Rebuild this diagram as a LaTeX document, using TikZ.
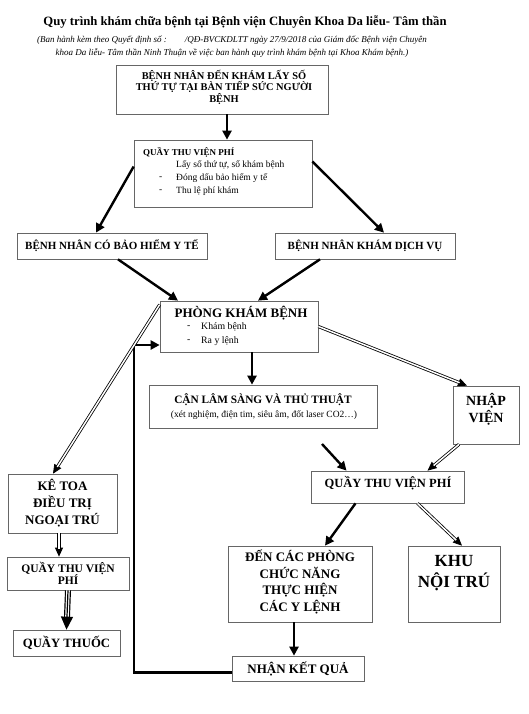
\documentclass[tikz,border=0pt]{standalone}
\usepackage{fontspec}
\setmainfont{Liberation Serif}
\usetikzlibrary{arrows.meta}

\begin{document}
\begin{tikzpicture}[x=1pt,y=-1pt,
    box/.style={draw=black!60, line width=0.7pt, inner sep=0pt, align=center, font=\bfseries},
    txt/.style={inner sep=0pt, align=center},
    arr/.style={line width=2.4pt, -{Triangle[length=9pt,width=9pt]}},
    dbltip/.style={line width=0.8pt, -{Triangle[length=9pt,width=8pt]}},
    dblline/.style={double=white, double distance=1.5pt, line width=0.8pt, shorten >=8pt}]
    \useasboundingbox (0,0) rectangle (529,714);

    \node[txt, font=\bfseries\fontsize{12.7}{14}\selectfont] (title) at (245,22) {Quy trình khám chữa bệnh tại Bệnh viện Chuyên Khoa Da liễu- Tâm thần};
    \node[txt, font=\itshape\fontsize{9}{13}\selectfont] (subtitle) at (232,46.5) {(Ban hành kèm theo Quyết định số :\hspace{2em}/QĐ-BVCKDLTT ngày 27/9/2018 của Giám đốc Bệnh viện Chuyên\\khoa Da liễu- Tâm thần Ninh Thuận về việc ban hành quy trình khám bệnh tại Khoa Khám bệnh.)};

    \node[box, minimum width=212, minimum height=49] (arrive) at (222,89.5) {};
    \node[txt, font=\bfseries\fontsize{10.4}{11.6}\selectfont] (arrivetext) at (224,87) {BỆNH NHÂN ĐẾN KHÁM LẤY SỐ\\THỨ TỰ TẠI BÀN TIẾP SỨC NGƯỜI\\BỆNH};

    \node[box, minimum width=178, minimum height=67] (cashier) at (223,173.5) {};
    \node[txt, anchor=west, font=\bfseries\fontsize{9}{10}\selectfont] (cashiertitle) at (143,152) {QUẦY THU VIỆN PHÍ};
    \node[txt, anchor=west, font=\fontsize{9.5}{10}\selectfont] (cashierone) at (176,165.5) {Lấy số thứ tự, sổ khám bệnh};
    \node[txt, anchor=west, font=\fontsize{9.5}{10}\selectfont] (dashtwo) at (159,178) {-};
    \node[txt, anchor=west, font=\fontsize{9.5}{10}\selectfont] (cashiertwo) at (176,178) {Đóng dấu bảo hiểm y tế};
    \node[txt, anchor=west, font=\fontsize{9.5}{10}\selectfont] (dashthree) at (159,191) {-};
    \node[txt, anchor=west, font=\fontsize{9.5}{10}\selectfont] (cashierthree) at (176,191) {Thu lệ phí khám};

    \node[box, minimum width=190, minimum height=26, font=\bfseries\fontsize{11}{12}\selectfont] (insured) at (112,246) {BỆNH NHÂN CÓ BẢO HIỂM Y TẾ};
    \node[box, minimum width=180, minimum height=26, font=\bfseries\fontsize{11}{12}\selectfont] (service) at (365,246) {BỆNH NHÂN KHÁM DỊCH VỤ};

    \node[box, minimum width=158, minimum height=51] (clinic) at (239,326.5) {};
    \node[txt, font=\bfseries\fontsize{13}{14}\selectfont] (clinictitle) at (241,313) {PHÒNG KHÁM BỆNH};
    \node[txt, anchor=west, font=\fontsize{9.8}{10}\selectfont] (dashexam) at (187,327) {-};
    \node[txt, anchor=west, font=\fontsize{9.8}{10}\selectfont] (exam) at (201,327) {Khám bệnh};
    \node[txt, anchor=west, font=\fontsize{9.8}{10}\selectfont] (dashorder) at (187,341) {-};
    \node[txt, anchor=west, font=\fontsize{9.8}{10}\selectfont] (order) at (201,341) {Ra y lệnh};

    \node[box, minimum width=228, minimum height=43] (tests) at (263,406.5) {};
    \node[txt, font=\bfseries\fontsize{11.3}{12}\selectfont] (teststitle) at (263,400) {CẬN LÂM SÀNG VÀ THỦ THUẬT};
    \node[txt, font=\fontsize{9.5}{10}\selectfont] (testsnote) at (264,415) {(xét nghiệm, điện tim, siêu âm, đốt laser CO2…)};

    \node[box, minimum width=66, minimum height=58] (admit) at (486,415) {};
    \node[txt, font=\bfseries\fontsize{14}{17}\selectfont] (admittext) at (486,409) {NHẬP\\VIỆN};

    \node[box, minimum width=153, minimum height=32] (cashiertwobox) at (387.5,487) {};
    \node[txt, font=\bfseries\fontsize{12.5}{13}\selectfont] (cashiertwotext) at (388,483) {QUẦY THU VIỆN PHÍ};

    \node[box, minimum width=144, minimum height=76] (rooms) at (300,584) {};
    \node[txt, font=\bfseries\fontsize{13}{16.5}\selectfont] (roomstext) at (300,582) {ĐẾN CÁC PHÒNG\\CHỨC NĂNG\\THỰC HIỆN\\CÁC Y LỆNH};
    \node[box, minimum width=92, minimum height=76] (ward) at (454,584) {};
    \node[txt, font=\bfseries\fontsize{17}{21}\selectfont] (wardtext) at (454,573) {KHU\\NỘI TRÚ};
    \node[box, minimum width=132, minimum height=25, font=\bfseries\fontsize{13}{14}\selectfont] (result) at (298,668.5) {NHẬN KẾT QUẢ};

    \node[box, minimum width=109, minimum height=59, font=\bfseries\fontsize{13}{17}\selectfont] (outpatient) at (62.5,503.5) {KÊ TOA\\ĐIỀU TRỊ\\NGOẠI TRÚ};
    \node[box, minimum width=122, minimum height=33, font=\bfseries\fontsize{11.5}{12.5}\selectfont] (cashierthreebox) at (68,573.5) {QUẦY THU VIỆN\\PHÍ};
    \node[box, minimum width=107, minimum height=26, font=\bfseries\fontsize{12.7}{13}\selectfont] (pharmacy) at (66.5,643) {QUẦY THUỐC};

    \coordinate (testsfoot) at (322,444);
    \coordinate (back) at (134,345);

    \draw[arr] ([xshift=5pt]arrive.south) -- ([xshift=4pt]cashier.north);
    \draw[arr] ([yshift=7pt]cashier.west) -- ([xshift=-16pt]insured.north);
    \draw[arr] ([yshift=12pt]cashier.east) -- ([xshift=19pt]service.north);
    \draw[arr] ([xshift=6pt]insured.south) -- ([xshift=-61pt]clinic.north);
    \draw[arr] ([xshift=-45pt]service.south) -- ([xshift=19pt]clinic.north);
    \draw[arr] ([xshift=13pt]clinic.south) -- ([xshift=-11pt]tests.north);
    \draw[arr] (testsfoot) -- ([xshift=-41pt]cashiertwobox.north);
    \draw[arr] ([xshift=-32pt]cashiertwobox.south) -- ([xshift=25pt]rooms.north);
    \draw[arr] ([xshift=-6pt]rooms.south) -- ([xshift=-4pt]result.north);
    \draw[arr] ([yshift=-4pt]result.west) -| (back) -- (back -| clinic.west);

    \draw[dbltip] (clinic.east) -- ([xshift=-19pt]admit.north);
    \draw[dblline] (clinic.east) -- ([xshift=-19pt]admit.north);
    \draw[dbltip] ([xshift=-27pt]admit.south) -- ([xshift=40pt]cashiertwobox.north);
    \draw[dblline] ([xshift=-27pt]admit.south) -- ([xshift=40pt]cashiertwobox.north);
    \draw[dbltip] ([xshift=30pt]cashiertwobox.south) -- ([xshift=8pt]ward.north);
    \draw[dblline] ([xshift=30pt]cashiertwobox.south) -- ([xshift=8pt]ward.north);
    \draw[dbltip] ([yshift=-4pt]clinic.north west) -- ([xshift=-9.5pt]outpatient.north);
    \draw[dblline] ([yshift=-4pt]clinic.north west) -- ([xshift=-9.5pt]outpatient.north);
    \draw[dbltip] ([xshift=-3.5pt]outpatient.south) -- ([xshift=-9pt]cashierthreebox.north);
    \draw[dblline] ([xshift=-3.5pt]outpatient.south) -- ([xshift=-9pt]cashierthreebox.north);

    \draw[line width=1.2pt, double distance=3.6pt, shorten >=10pt] (cashierthreebox.south) -- (pharmacy.north);
    \draw[line width=1.2pt, -{Triangle[length=13pt,width=12pt]}] (cashierthreebox.south) -- (pharmacy.north);
\end{tikzpicture}
\end{document}
